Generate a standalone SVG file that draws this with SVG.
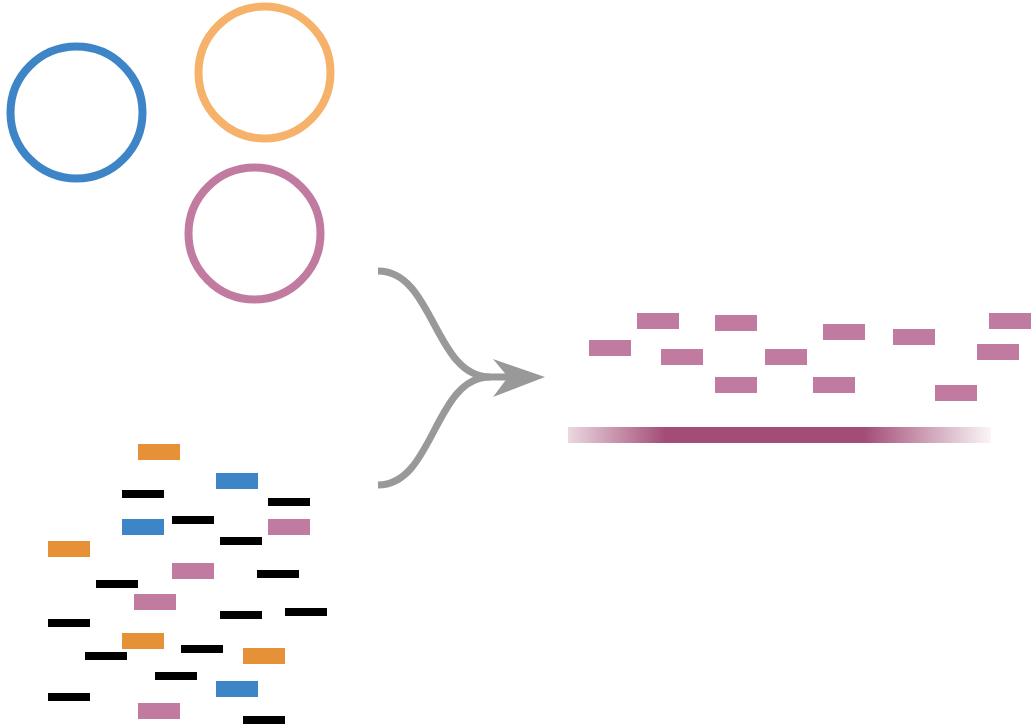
<svg xmlns="http://www.w3.org/2000/svg" width="1031" height="728" viewBox="0 0 1031 728">
  <style>
    .ring { fill: none; stroke-width: 8; }
    .blue { fill: #3d85c6; }
    .orange { fill: #e69138; }
    .pink { fill: #c27ba0; }
    .black { fill: #000000; }
    .flow { fill: none; stroke: #999999; stroke-width: 7; }
  </style>
  <defs>
    <linearGradient id="bandFade" x1="0" y1="0" x2="1" y2="0">
      <stop offset="0" stop-color="#a34d76" stop-opacity="0.22"/>
      <stop offset="0.23" stop-color="#a34d76" stop-opacity="1"/>
      <stop offset="0.7" stop-color="#a34d76" stop-opacity="1"/>
      <stop offset="1" stop-color="#a34d76" stop-opacity="0.05"/>
    </linearGradient>
  </defs>

  <!-- source rings -->
  <g id="ring-blue"><circle class="ring" cx="76.5" cy="112.5" r="66" stroke="#3d85c6"/></g>
  <g id="ring-orange"><circle class="ring" cx="264.5" cy="72.5" r="66" stroke="#f6b26b"/></g>
  <g id="ring-pink"><circle class="ring" cx="254.5" cy="233.5" r="66" stroke="#c27ba0"/></g>

  <!-- mixed fragments -->
  <g id="mixed-fragments">
    <rect class="orange" x="138" y="444" width="42" height="16"/>
    <rect class="blue" x="216" y="473" width="42" height="16"/>
    <rect class="blue" x="122" y="519" width="42" height="16"/>
    <rect class="pink" x="268" y="519" width="42" height="16"/>
    <rect class="orange" x="48" y="541" width="42" height="16"/>
    <rect class="pink" x="172" y="563" width="42" height="16"/>
    <rect class="pink" x="134" y="594" width="42" height="16"/>
    <rect class="orange" x="122" y="633" width="42" height="16"/>
    <rect class="orange" x="243" y="648" width="42" height="16"/>
    <rect class="blue" x="216" y="681" width="42" height="16"/>
    <rect class="pink" x="138" y="703" width="42" height="16"/>

    <rect class="black" x="122" y="490" width="42" height="8"/>
    <rect class="black" x="268" y="498" width="42" height="8"/>
    <rect class="black" x="172" y="516" width="42" height="8"/>
    <rect class="black" x="220" y="537" width="42" height="8"/>
    <rect class="black" x="257" y="570" width="42" height="8"/>
    <rect class="black" x="96" y="580" width="42" height="8"/>
    <rect class="black" x="220" y="611" width="42" height="8"/>
    <rect class="black" x="285" y="608" width="42" height="8"/>
    <rect class="black" x="48" y="619" width="42" height="8"/>
    <rect class="black" x="181" y="645" width="42" height="8"/>
    <rect class="black" x="85" y="652" width="42" height="8"/>
    <rect class="black" x="155" y="672" width="42" height="8"/>
    <rect class="black" x="48" y="693" width="42" height="8"/>
    <rect class="black" x="243" y="716" width="42" height="8"/>
  </g>

  <!-- merging arrow -->
  <g id="connectors">
    <path class="flow" d="M378,271 C434,271 434,377 490,377 L515,377"/>
    <path class="flow" d="M378,485 C434,485 434,377 490,377"/>
    <polygon fill="#999999" points="545,377 493,359 508,377 493,397"/>
  </g>

  <!-- sorted fragments -->
  <g id="sorted-fragments">
    <rect class="pink" x="637" y="313" width="42" height="16"/>
    <rect class="pink" x="715" y="315" width="42" height="16"/>
    <rect class="pink" x="589" y="340" width="42" height="16"/>
    <rect class="pink" x="661" y="349" width="42" height="16"/>
    <rect class="pink" x="765" y="349" width="42" height="16"/>
    <rect class="pink" x="823" y="324" width="42" height="16"/>
    <rect class="pink" x="893" y="329" width="42" height="16"/>
    <rect class="pink" x="989" y="313" width="42" height="16"/>
    <rect class="pink" x="977" y="344" width="42" height="16"/>
    <rect class="pink" x="715" y="377" width="42" height="16"/>
    <rect class="pink" x="813" y="377" width="42" height="16"/>
    <rect class="pink" x="935" y="385" width="42" height="16"/>
  </g>

  <!-- assembled band -->
  <g id="band">
    <rect x="568" y="427" width="423" height="16" fill="url(#bandFade)"/>
  </g>
</svg>
